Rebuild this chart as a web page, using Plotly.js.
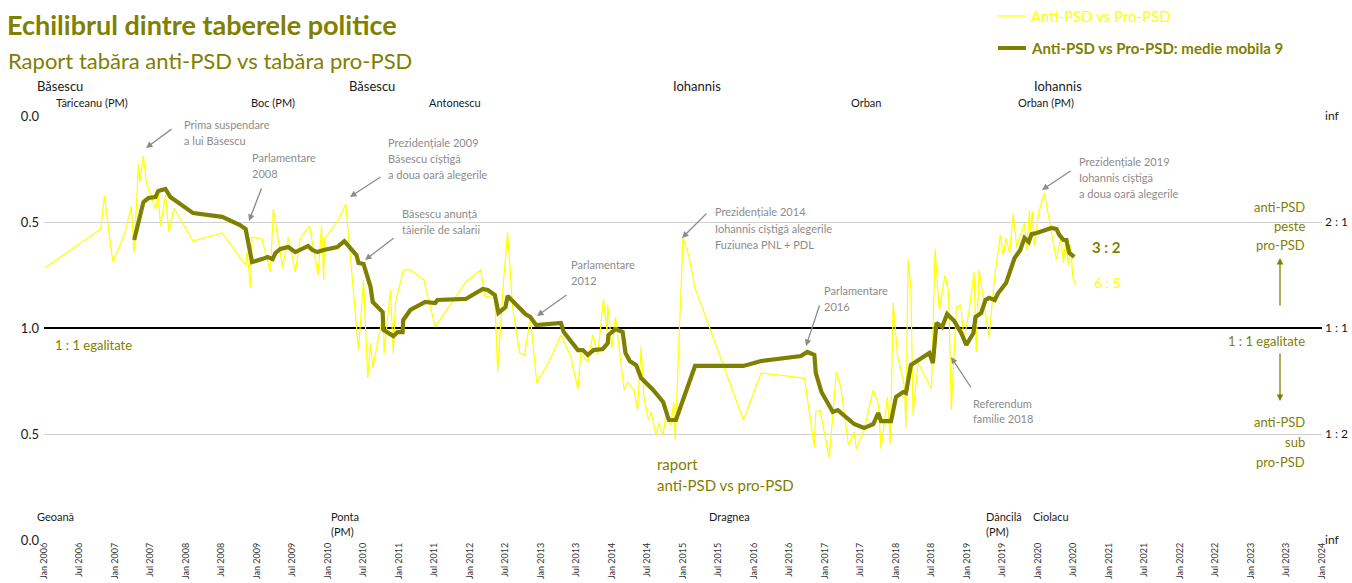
<!DOCTYPE html>
<html>
<head>
<meta charset="utf-8">
<script src="https://cdn.plot.ly/plotly-3.0.1.min.js"></script>
<style>html,body{margin:0;padding:0;background:#fff;}#chart{width:1352px;height:583px;}</style>
</head>
<body>
<div id="chart"></div>
<script>
// Balance index: +1 = anti-PSD infinitely ahead, 0 = 1:1, -1 = pro-PSD infinitely ahead
// (upper half shows pro/anti ratio, lower half anti/pro ratio)
const rawYears = [2006.01,2006.80,2006.85,2006.97,2007.14,2007.23,2007.27,2007.33,2007.35,2007.40,2007.44,2007.57,2007.61,2007.64,2007.71,2007.76,2007.83,2008.10,2008.51,2008.74,2008.84,2008.86,2008.91,2008.93,2009.07,2009.19,2009.23,2009.36,2009.44,2009.54,2009.61,2009.74,2009.86,2009.91,2009.94,2009.95,2010.13,2010.25,2010.43,2010.50,2010.56,2010.60,2010.63,2010.78,2010.79,2010.88,2010.92,2010.95,2011.06,2011.16,2011.35,2011.51,2011.94,2012.15,2012.21,2012.35,2012.39,2012.47,2012.53,2012.60,2012.70,2012.77,2012.85,2012.94,2013.14,2013.28,2013.42,2013.52,2013.56,2013.66,2013.73,2013.80,2013.88,2013.93,2013.94,2014.00,2014.05,2014.10,2014.17,2014.22,2014.31,2014.36,2014.41,2014.45,2014.51,2014.55,2014.62,2014.66,2014.72,2014.76,2014.83,2014.87,2014.89,2015.00,2015.08,2015.17,2015.85,2016.10,2016.71,2016.85,2016.87,2016.93,2017.06,2017.16,2017.23,2017.33,2017.41,2017.44,2017.55,2017.68,2017.75,2017.79,2017.88,2017.92,2017.96,2018.02,2018.12,2018.14,2018.17,2018.21,2018.24,2018.31,2018.50,2018.55,2018.61,2018.69,2018.74,2018.78,2018.85,2018.91,2018.96,2019.03,2019.10,2019.13,2019.17,2019.23,2019.31,2019.39,2019.47,2019.51,2019.55,2019.60,2019.65,2019.70,2019.81,2019.84,2019.88,2019.89,2019.92,2019.95,2020.01,2020.09,2020.19,2020.26,2020.32,2020.36,2020.39,2020.43,2020.46,2020.49,2020.53];
const rawVals = [0.283,0.467,0.623,0.311,0.448,0.575,0.358,0.774,0.689,0.811,0.689,0.561,0.627,0.481,0.627,0.453,0.566,0.410,0.448,0.344,0.297,0.358,0.193,0.429,0.420,0.264,0.561,0.288,0.429,0.264,0.425,0.481,0.250,0.481,0.226,0.420,0.500,0.585,-0.104,0.226,-0.236,-0.071,-0.189,0.071,-0.118,0.179,-0.118,0.118,0.274,0.274,0.226,0.005,0.217,0.274,0.151,0.142,-0.208,0.212,0.453,0.099,-0.118,-0.127,0.052,-0.259,-0.142,-0.033,-0.137,-0.288,-0.118,-0.160,-0.033,-0.127,0.137,-0.019,0.108,-0.090,0.052,-0.090,-0.292,-0.255,-0.292,-0.387,-0.090,-0.325,-0.434,-0.396,-0.505,-0.448,-0.505,-0.401,-0.458,-0.349,-0.528,0.425,0.344,0.189,-0.434,-0.212,-0.236,-0.561,-0.396,-0.387,-0.613,-0.208,-0.292,-0.552,-0.491,-0.571,-0.481,-0.292,-0.354,-0.571,-0.325,-0.547,0.118,-0.127,-0.278,-0.472,0.321,0.193,-0.410,-0.165,-0.288,0.373,0.085,0.250,0.170,-0.387,0.099,0.108,-0.057,0.085,0.264,-0.113,0.274,0.146,-0.047,0.245,0.439,0.344,0.425,0.354,0.538,0.382,0.495,0.368,0.552,0.439,0.552,0.387,0.547,0.637,0.453,0.321,0.425,0.307,0.415,0.297,0.392,0.241,0.203];

const maYears = [2007.27,2007.31,2007.40,2007.47,2007.57,2007.61,2007.71,2007.78,2007.88,2008.10,2008.51,2008.76,2008.84,2008.88,2008.93,2009.07,2009.15,2009.22,2009.26,2009.33,2009.44,2009.54,2009.72,2009.78,2009.85,2009.94,2010.13,2010.23,2010.40,2010.43,2010.50,2010.60,2010.63,2010.77,2010.78,2010.92,2010.98,2011.05,2011.06,2011.16,2011.37,2011.51,2011.54,2011.94,2012.18,2012.25,2012.35,2012.40,2012.50,2012.53,2012.78,2012.85,2012.93,2013.28,2013.32,2013.52,2013.59,2013.66,2013.74,2013.87,2013.94,2013.95,2014.05,2014.15,2014.19,2014.25,2014.34,2014.41,2014.58,2014.72,2014.80,2014.90,2015.17,2015.85,2015.96,2016.10,2016.66,2016.75,2016.85,2016.87,2016.95,2017.11,2017.18,2017.41,2017.55,2017.68,2017.75,2017.79,2017.93,2018.00,2018.10,2018.14,2018.21,2018.47,2018.52,2018.57,2018.65,2018.72,2018.82,2018.92,2018.99,2019.09,2019.12,2019.20,2019.26,2019.31,2019.39,2019.44,2019.55,2019.63,2019.67,2019.75,2019.81,2019.87,2019.91,2019.98,2020.08,2020.19,2020.26,2020.30,2020.36,2020.40,2020.44,2020.51];
const maVals = [0.415,0.476,0.594,0.613,0.618,0.646,0.656,0.618,0.594,0.542,0.524,0.486,0.467,0.401,0.311,0.325,0.335,0.325,0.354,0.373,0.382,0.358,0.387,0.368,0.358,0.368,0.382,0.410,0.344,0.307,0.302,0.193,0.123,0.075,-0.009,-0.038,-0.019,-0.019,0.038,0.085,0.123,0.118,0.132,0.137,0.184,0.179,0.156,0.071,0.099,0.151,0.066,0.052,0.014,0.024,-0.019,-0.104,-0.104,-0.127,-0.104,-0.099,-0.071,-0.033,-0.005,-0.019,-0.118,-0.156,-0.175,-0.236,-0.292,-0.349,-0.434,-0.434,-0.179,-0.179,-0.170,-0.156,-0.132,-0.113,-0.127,-0.212,-0.302,-0.396,-0.387,-0.453,-0.472,-0.453,-0.401,-0.439,-0.439,-0.325,-0.302,-0.307,-0.175,-0.118,-0.165,0.024,0.005,0.066,0.033,-0.024,-0.080,-0.024,0.052,0.071,0.132,0.142,0.132,0.165,0.212,0.288,0.330,0.368,0.425,0.406,0.443,0.448,0.458,0.472,0.467,0.439,0.415,0.415,0.354,0.335];

const xTickVals = [2006,2006.5,2007,2007.5,2008,2008.5,2009,2009.5,2010,2010.5,2011,2011.5,2012,2012.5,2013,2013.5,2014,2014.5,2015,2015.5,2016,2016.5,2017,2017.5,2018,2018.5,2019,2019.5,2020,2020.5,2021,2021.5,2022,2022.5,2023,2023.5,2024];
const xTickText = ['Jan 2006','Jul 2006','Jan 2007','Jul 2007','Jan 2008','Jul 2008','Jan 2009','Jul 2009','Jan 2010','Jul 2010','Jan 2011','Jul 2011','Jan 2012','Jul 2012','Jan 2013','Jul 2013','Jan 2014','Jul 2014','Jan 2015','Jul 2015','Jan 2016','Jul 2016','Jan 2017','Jul 2017','Jan 2018','Jul 2018','Jan 2019','Jul 2019','Jan 2020','Jul 2020','Jan 2021','Jul 2021','Jan 2022','Jul 2022','Jan 2023','Jul 2023','Jan 2024'];
const yTickVals = [1,0.5,0,-0.5,-1];
const yTickLeft = ['0.0','0.5','1.0','0.5','0.0'];
const yTickRight = ['inf','2 : 1','1 : 1','1 : 2','inf'];

const OLIVE = '#808000', YEL = '#ffff00', GRAY = '#8c8c8c', BLACK = '#1a1a1a';
const FONT = 'Lato, "Open Sans", "DejaVu Sans", sans-serif';

// pixel -> paper helpers (plot area 44..1322 x 116..540)
const PX = p => (p - 44) / 1278;
const PY = p => (540 - p) / 424;

const annotations = [];
const shapes = [];
function txt(s, left, cy, size, color, opts) {
  opts = opts || {};
  annotations.push({
    xref: 'paper', yref: 'paper', x: PX(left), y: PY(cy),
    xanchor: opts.anchor || 'left', yanchor: 'middle', showarrow: false,
    text: s, borderpad: 0,
    font: {family: FONT, size: size, color: color}
  });
}
function lines(arr, left, cy0, step, size, color, anchor) {
  arr.forEach((s, i) => txt(s, left, cy0 + i * step, size, color, {anchor: anchor}));
}
function arrow(tx, ty, hx, hy, color) {
  annotations.push({
    xref: 'paper', yref: 'paper', x: PX(hx), y: PY(hy),
    ax: tx - hx, ay: ty - hy, axref: 'pixel', ayref: 'pixel',
    text: '', showarrow: true, arrowhead: 2, arrowsize: 1, arrowwidth: 1.3,
    arrowcolor: color, standoff: 0, startstandoff: 0
  });
}

// subtitle
txt('Raport tabăra anti-PSD vs tabăra pro-PSD', 7, 60, 22, OLIVE);

// legend (manual)
shapes.push({type:'line', xref:'paper', yref:'paper', x0:PX(998), x1:PX(1026), y0:PY(16), y1:PY(16), line:{color:YEL, width:1.2}});
txt('Anti-PSD vs Pro-PSD', 1030, 16, 15, YEL);
shapes.push({type:'line', xref:'paper', yref:'paper', x0:PX(998), x1:PX(1026), y0:PY(48), y1:PY(48), line:{color:OLIVE, width:4}});
txt('<b>Anti-PSD vs Pro-PSD: medie mobila 9</b>', 1030, 48, 15, OLIVE);

// presidents / PMs (top)
txt('Băsescu', 36, 86, 13, BLACK);
txt('Tăriceanu (PM)', 55, 102, 11, BLACK);
txt('Boc (PM)', 250, 102, 11, BLACK);
txt('Băsescu', 348, 86, 13, BLACK);
txt('Antonescu', 428, 102, 11, BLACK);
txt('Iohannis', 672, 86, 13, BLACK);
txt('Orban', 850, 102, 11, BLACK);
txt('Iohannis', 1033, 86, 13, BLACK);
txt('Orban (PM)', 1017, 102, 11, BLACK);
// PSD leaders (bottom)
txt('Geoană', 36, 516, 11, BLACK);
lines(['Ponta','(PM)'], 330, 516, 15, 11, BLACK);
txt('Dragnea', 708, 516, 11, BLACK);
lines(['Dăncilă','(PM)'], 985, 516, 15, 11, BLACK);
txt('Ciolacu', 1032, 516, 11, BLACK);

// event notes
lines(['Prima suspendare','a lui Băsescu'], 183, 124, 16, 11, GRAY);
arrow(173, 128, 146, 148, GRAY);
lines(['Parlamentare','2008'], 251, 157, 16, 11, GRAY);
arrow(262, 187, 249, 221, GRAY);
lines(['Prezidențiale 2009','Băsescu cîștigă','a doua oară alegerile'], 387, 142, 16, 11, GRAY);
arrow(382, 176, 350, 197, GRAY);
lines(['Băsescu anunță','tăierile de salarii'], 401, 213, 16, 11, GRAY);
arrow(395, 237, 365, 260, GRAY);
lines(['Parlamentare','2012'], 570, 264, 16, 11, GRAY);
arrow(568, 294, 537, 316, GRAY);
lines(['Prezidențiale 2014','Iohannis cîștigă alegerile','Fuziunea PNL + PDL'], 714, 212, 16, 11, GRAY);
arrow(708, 212, 682, 238, GRAY);
lines(['Parlamentare','2016'], 823, 290, 16, 11, GRAY);
arrow(820, 304, 806, 346, GRAY);
lines(['Referendum','familie 2018'], 972, 403, 16, 11, GRAY);
arrow(972, 389, 951, 357, GRAY);
lines(['Prezidențiale 2019','Iohannis cîștigă','a doua oară alegerile'], 1078, 161, 16, 11, GRAY);
arrow(1072, 170, 1042, 190, GRAY);

// olive notes
txt('1 : 1 egalitate', 54, 345, 13, OLIVE);
lines(['raport','anti-PSD vs pro-PSD'], 656, 464, 21, 15, OLIVE);
txt('<b>3 : 2</b>', 1091, 247, 15, OLIVE);
txt('6 : 5', 1093, 282, 14, YEL);
lines(['anti-PSD','peste','pro-PSD'], 1306, 207, 19, 13, OLIVE, 'right');
arrow(1280, 307, 1280, 258, OLIVE);
txt('1 : 1 egalitate', 1306, 341, 13, OLIVE, {anchor:'right'});
arrow(1280, 352, 1280, 401, OLIVE);
lines(['anti-PSD','sub','pro-PSD'], 1306, 422, 20, 13, OLIVE, 'right');

const traces = [
  {x: rawYears, y: rawVals, type: 'scatter', mode: 'lines', name: 'Anti-PSD vs Pro-PSD',
   line: {color: YEL, width: 1.2}, hoverinfo: 'x+y', showlegend: false},
  {x: maYears, y: maVals, type: 'scatter', mode: 'lines', name: 'Anti-PSD vs Pro-PSD: medie mobila 9',
   line: {color: OLIVE, width: 4.2}, hoverinfo: 'x+y', showlegend: false},
  {x: [2006], y: [0], yaxis: 'y2', type: 'scatter', mode: 'markers', marker: {opacity: 0}, hoverinfo: 'skip', showlegend: false}
];

const layout = {
  width: 1352, height: 583,
  margin: {l: 44, r: 30, t: 116, b: 43, pad: 0},
  paper_bgcolor: '#fff', plot_bgcolor: '#fff',
  font: {family: FONT, color: BLACK},
  showlegend: false,
  title: {text: '<b>Echilibrul dintre taberele politice</b>', xref: 'container', yref: 'container',
          x: 7/1352, xanchor: 'left', y: 1 - 26/583, yanchor: 'middle',
          font: {family: FONT, size: 27, color: OLIVE}},
  xaxis: {range: [2006, 2024], tickmode: 'array', tickvals: xTickVals, ticktext: xTickText,
          tickangle: -90, tickfont: {size: 9, color: '#333'}, showgrid: false, zeroline: false,
          showline: false, ticks: '', fixedrange: true},
  yaxis: {range: [-1, 1], tickmode: 'array', tickvals: yTickVals, ticktext: yTickLeft,
          tickfont: {size: 13, color: BLACK}, showgrid: true, gridcolor: '#d0d0d0', gridwidth: 1,
          zeroline: true, zerolinecolor: '#000', zerolinewidth: 1.2, showline: false, ticks: '',
          ticklabelstandoff: 4, fixedrange: true},
  yaxis2: {range: [-1, 1], overlaying: 'y', side: 'right', tickmode: 'array', tickvals: yTickVals,
           ticktext: yTickRight, tickfont: {size: 12, color: BLACK}, showgrid: false, zeroline: false,
           showline: false, ticks: '', ticklabelstandoff: 2, fixedrange: true},
  annotations: annotations,
  shapes: shapes
};

Plotly.newPlot('chart', traces, layout, {displayModeBar: false, staticPlot: true});
</script>
</body>
</html>
